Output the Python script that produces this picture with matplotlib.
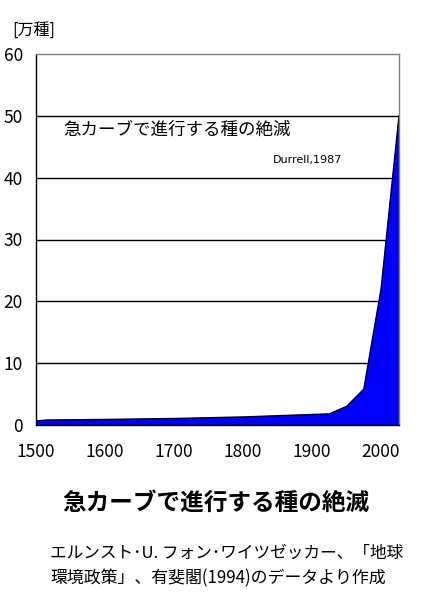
import matplotlib
matplotlib.use("Agg")
import matplotlib.pyplot as plt

plt.rcParams['font.family'] = ['Noto Sans CJK JP', 'DejaVu Sans']

# species extinct (10^4 species)
years = [1500, 1515, 1600, 1700, 1800, 1900, 1925, 1950, 1975, 2000, 2026]
species = [0.65, 0.8, 0.9, 1.05, 1.3, 1.7, 1.8, 3.0, 5.8, 22, 50]
yticks = [0, 10, 20, 30, 40, 50, 60]
xticks = [1500, 1600, 1700, 1800, 1900, 2000]

fig = plt.figure(figsize=(4.33, 6.11), dpi=100)
ax = fig.add_axes([36/433, 186/611, 363/433, 371/611])

ax.fill_between(years, species, 0, color="#0000FF", zorder=2)
ax.plot(years, species, color="black", lw=1.0, zorder=3)

ax.set_xlim(1500, 2026)
ax.set_ylim(0, 60)
ax.set_yticks(yticks)
ax.set_xticks(xticks)
ax.tick_params(length=0, labelsize=12.5)
ax.tick_params(axis="x", pad=13)
ax.tick_params(axis="y", pad=9.5)
for y in yticks[1:-1]:
    ax.axhline(y, color="black", lw=1.0, zorder=1)

ax.spines["left"].set_color("black")
ax.spines["bottom"].set_color("black")
ax.spines["top"].set_color("#808080")
ax.spines["right"].set_color("#808080")
for s in ax.spines.values():
    s.set_linewidth(1.0)
    s.set_zorder(4)

ax.text(0.075, 0.795, "急カーブで進行する種の絶滅", transform=ax.transAxes,
        fontsize=12.6, va="center", ha="left")
ax.text(0.747, 0.713, "Durrell,1987", transform=ax.transAxes,
        fontsize=8, va="center", ha="center",
        family=["Liberation Sans Narrow", "DejaVu Sans"])

fig.text(12/433, 1 - 30/611, "[万種]", fontsize=11.5, va="center", ha="left")
fig.text(62/433, 1 - 503/611, "急カーブで進行する種の絶滅", fontsize=17,
         fontweight="bold", va="center", ha="left")
fig.text(50/433, 1 - 553/611, "エルンスト･U. フォン･ワイツゼッカー、「地球",
         fontsize=12, va="center", ha="left")
fig.text(50/433, 1 - 578/611, "環境政策」、有斐閣(1994)のデータより作成",
         fontsize=12.2, va="center", ha="left")

fig.savefig("out.png", dpi=100)
